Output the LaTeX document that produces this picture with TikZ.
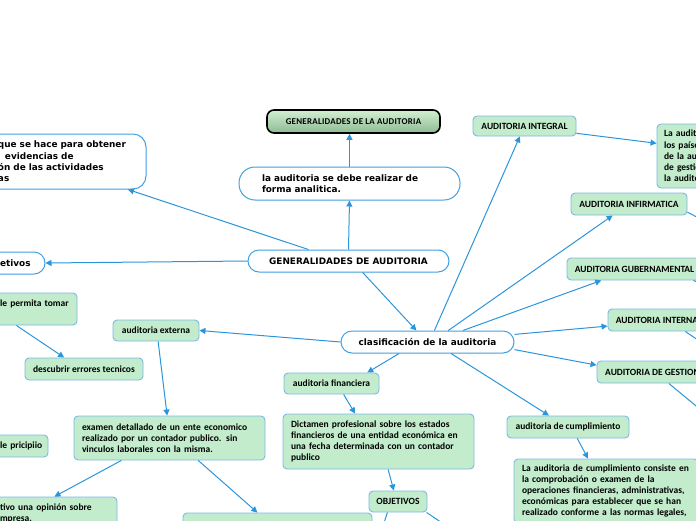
\documentclass[tikz,border=0pt]{standalone}
\usepackage{fontspec}
\usepackage{tikz}
\usetikzlibrary{arrows.meta}
\newfontfamily\letrablanca{DejaVu Sans}
\newfontfamily\letraverde{Carlito}
\definecolor{azul}{HTML}{2B95DC}
\definecolor{borde}{HTML}{7DB8E6}
\definecolor{hoja}{HTML}{C2ECCC}
\definecolor{marco}{HTML}{3FA0E2}
\definecolor{verdearriba}{HTML}{D3EFD3}
\definecolor{verdeabajo}{HTML}{8CBB91}
\tikzset{
	blanco/.style={draw=marco,fill=white,line width=1pt,rounded corners=11pt,inner sep=0pt,font=\letrablanca\bfseries\fontsize{8.9}{11.3}\selectfont},
	hojita/.style={draw=borde,fill=hoja,line width=0.9pt,rounded corners=4pt,inner sep=0pt,font=\letraverde\bfseries\fontsize{9.5}{11.2}\selectfont},
	cabeza/.style={draw=black,line width=1.6pt,rounded corners=7pt,top color=verdearriba,bottom color=verdeabajo,inner sep=0pt,font=\letraverde\bfseries\fontsize{8.9}{11}\selectfont},
	flecha/.style={azul,line width=1pt,-{Triangle[length=6pt,width=6pt]}}
}

\begin{document}
\begin{tikzpicture}[x=1pt,y=-1pt]
	\useasboundingbox (0,0) rectangle (696,520);
	\clip (0,0) rectangle (696,520);
	% centro y ramas blancas
	\node[cabeza, minimum width=173, minimum height=23] (cab) at (353.5,121.5) {\addfontfeature{LetterSpace=3}GENERALIDADES DE LA AUDITORIA};
	\node[blanco, rounded corners=16pt, inner xsep=23pt, text width=175pt, align=left, minimum height=33] (analitica) at (349.5,183.5) {la auditoria se debe realizar de\\forma analitica.};
	\node[blanco, rounded corners=13pt, inner xsep=20pt, text width=128pt, align=left, minimum height=55] (proceso) at (62,161.5) {que se hace para obtener\\\hspace*{7pt}evidencias de\\ón de las actividades\\as};
	\node[blanco, inner xsep=20pt, text width=25pt, align=left, minimum height=22] (objetivos) at (12.5,263) {etivos};
	\node[blanco, minimum width=201, minimum height=22] (gen) at (348.5,261) {GENERALIDADES DE AUDITORIA};
	\node[blanco, minimum width=173, minimum height=22] (clas) at (427.5,342) {clasificación de la auditoria};
	% tipos de auditoria
	\begin{scope}[every node/.style=hojita]
	\node[minimum width=103, minimum height=20] (integral) at (524.5,126) {AUDITORIA INTEGRAL};
	\node[inner xsep=7pt, text width=80pt, align=left, minimum height=64] (integraltxt) at (704,156) {La auditoria\\los países\\de la auditoria\\de gestión\\la auditoria};
	\node[minimum width=116, minimum height=22] (informatica) at (629,204) {AUDITORIA INFIRMATICA};
	\node[minimum width=135, minimum height=22] (gubernamental) at (634.5,269) {AUDITORIA GUBERNAMENTAL};
	\node[minimum width=98, minimum height=22] (interna) at (657,320) {AUDITORIA INTERNA};
	\node[minimum width=111, minimum height=22] (gestion) at (652.5,372) {AUDITORIA DE GESTION};
	\node[minimum width=86, minimum height=21] (externa) at (156,330.5) {auditoria externa};
	\node[inner xsep=5pt, text width=72pt, align=left, minimum height=32] (permita) at (36,309) {\mbox{le permita tomar}\\\mbox{}};
	\node[minimum width=118, minimum height=22] (descubrir) at (84,369) {descubrir errores tecnicos};
	\node[inner xsep=5pt, text width=43pt, align=left, minimum height=22] (pricipio) at (21.5,446) {\mbox{le pricipiio}};
	\node[inner xsep=8pt, text width=175pt, align=left, minimum height=44] (examen) at (169.5,438) {examen detallado de un ente economico\\realizado por un contador publico. sin\\vinculos laborales con la misma.};
	\node[inner xsep=8pt, text width=109pt, align=left, minimum height=33] (opinion) at (54.5,513.5) {tivo una opinión sobre\\mpresa.};
	\node[minimum width=189, minimum height=47] (abajo) at (277.5,536.5) {};
	\node[minimum width=95, minimum height=21] (financiera) at (331.5,383.5) {auditoria financiera};
	\node[inner xsep=8pt, text width=175pt, align=left, minimum height=55] (dictamen) at (378.5,441.5) {Dictamen profesional sobre los estados\\financieros de una entidad económica en\\una fecha determinada con un contador\\publico};
	\node[minimum width=58, minimum height=21] (objetivosb) at (398,501.5) {OBJETIVOS};
	\node[minimum width=122, minimum height=22] (cumplimiento) at (568,427) {auditoria de cumplimiento};
	\node[inner xsep=8pt, text width=168pt, align=left, minimum height=64] (cumpltxt) at (606,491) {La auditoria de cumplimiento consiste en\\la comprobación o examen de la\\operaciones financieras, administrativas,\\económicas para establecer que se han\\realizado conforme a las normas legales,};
	\end{scope}
	% salidas fuera del cuadro
	\coordinate (sal1) at (380,535);
	\coordinate (sal2) at (460,535);
	\coordinate (sal3) at (730,234);
	\coordinate (sal4) at (730,296);
	\coordinate (sal5) at (730,362);
	\coordinate (sal6) at (730,434);
	% conectores
	\draw[flecha] (gen.north) -- (analitica.south);
	\draw[flecha] (analitica.north) -- (analitica.north |- cab.south);
	\draw[flecha] (gen.164) -- (proceso.-23);
	\draw[flecha] (gen.west) -- (objetivos.east);
	\draw[flecha] (gen.-39) -- (clas.134);
	\draw[flecha] (clas.59) -- (integral.246);
	\draw[flecha] (integral.-8) -- (integraltxt.165);
	\draw[flecha] (clas.29) -- (informatica.215);
	\draw[flecha] (clas.18) -- (gubernamental.199);
	\draw[flecha] (clas.5) -- (interna.187);
	\draw[flecha] (clas.-5) -- (gestion.173);
	\draw[flecha] (clas.-26) -- (cumplimiento.149);
	\draw[flecha] (clas.202) -- (financiera.17);
	\draw[flecha] (clas.west) -- (externa.east);
	\draw[flecha] (externa.-79) -- (examen.96);
	\draw[flecha] (examen.205) -- (opinion.north);
	\draw[flecha] (examen.-38) -- (abajo.130);
	\draw[flecha] (permita.220) -- (descubrir.150);
	\draw[flecha] (financiera.-42) -- (dictamen.130);
	\draw[flecha] (dictamen.-71) -- (objetivosb.111);
	\draw[flecha] (objetivosb.226) -- (sal1);
	\draw[flecha] (objetivosb.-21) -- (sal2);
	\draw[flecha] (cumplimiento.-51) -- (cumpltxt.119);
	\draw[flecha] (informatica.-8) -- (sal3);
	\draw[flecha] (gubernamental.-11) -- (sal4);
	\draw[flecha] (interna.-22) -- (sal5);
	\draw[flecha] (gestion.-35) -- (sal6);
\end{tikzpicture}
\end{document}
